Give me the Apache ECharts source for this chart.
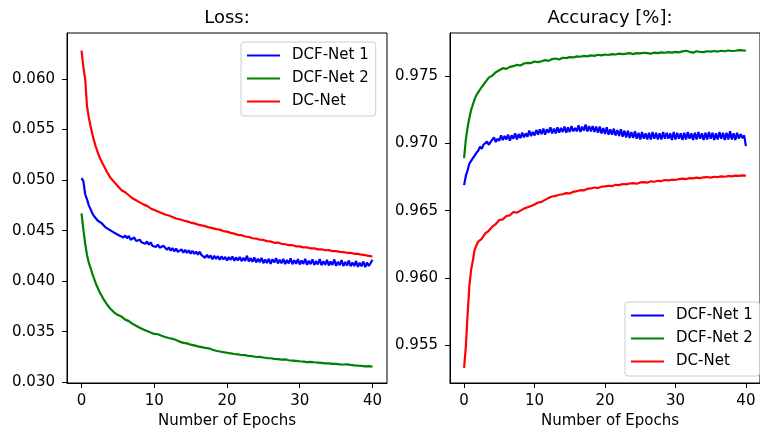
<!DOCTYPE html>
<html>
<head>
<meta charset="utf-8">
<script src="https://cdn.jsdelivr.net/npm/echarts@6/dist/echarts.min.js"></script>
<style>
html,body{margin:0;padding:0;background:#fff;}
#chart{width:760px;height:432px;}
</style>
</head>
<body>
<div id="chart"></div>
<script>
const seriesNames = ['DCF-Net 1', 'DCF-Net 2', 'DC-Net'];
const xTicks = [0, 10, 20, 30, 40];
const lossTicks = [0.030, 0.035, 0.040, 0.045, 0.050, 0.055, 0.060];
const accTicks = [0.955, 0.960, 0.965, 0.970, 0.975];

// sampling points (epochs) for the smoother curves
const epochs = [0, 0.25, 0.5, 0.75, 1, 1.25, 1.5, 1.75, 2,
  2.5, 3, 3.5, 4, 4.5, 5, 5.5, 6, 6.5, 7, 7.5, 8, 8.5, 9, 9.5, 10,
  10.5, 11, 11.5, 12, 12.5, 13, 13.5, 14, 14.5, 15, 15.5, 16, 16.5, 17, 17.5, 18,
  18.5, 19, 19.5, 20, 20.5, 21, 21.5, 22, 22.5, 23, 23.5, 24, 24.5, 25, 25.5, 26,
  26.5, 27, 27.5, 28, 28.5, 29, 29.5, 30, 30.5, 31, 31.5, 32, 32.5, 33, 33.5, 34,
  34.5, 35, 35.5, 36, 36.5, 37, 37.5, 38, 38.5, 39, 39.5, 40];

// finer sampling points for the noisy DCF-Net 1 curves
const epochsFine = [0, 0.25, 0.5, 0.75, 1, 1.25, 1.5, 1.75,
  2, 2.25, 2.5, 2.75, 3, 3.25, 3.5, 3.75, 4, 4.25, 4.5, 4.75, 5, 5.25, 5.5, 5.75,
  6, 6.25, 6.5, 6.75, 7, 7.25, 7.5, 7.75, 8, 8.25, 8.5, 8.75, 9, 9.25, 9.5, 9.75,
  10, 10.25, 10.5, 10.75, 11, 11.25, 11.5, 11.75, 12, 12.25, 12.5, 12.75, 13, 13.25, 13.5, 13.75,
  14, 14.25, 14.5, 14.75, 15, 15.25, 15.5, 15.75, 16, 16.25, 16.5, 16.75, 17, 17.25, 17.5, 17.75,
  18, 18.25, 18.5, 18.75, 19, 19.25, 19.5, 19.75, 20, 20.25, 20.5, 20.75, 21, 21.25, 21.5, 21.75,
  22, 22.25, 22.5, 22.75, 23, 23.25, 23.5, 23.75, 24, 24.25, 24.5, 24.75, 25, 25.25, 25.5, 25.75,
  26, 26.25, 26.5, 26.75, 27, 27.25, 27.5, 27.75, 28, 28.25, 28.5, 28.75, 29, 29.25, 29.5, 29.75,
  30, 30.25, 30.5, 30.75, 31, 31.25, 31.5, 31.75, 32, 32.25, 32.5, 32.75, 33, 33.25, 33.5, 33.75,
  34, 34.25, 34.5, 34.75, 35, 35.25, 35.5, 35.75, 36, 36.25, 36.5, 36.75, 37, 37.25, 37.5, 37.75,
  38, 38.25, 38.5, 38.75, 39, 39.25, 39.5, 39.75, 40];

const lossDCF1 = [0.0502, 0.0499, 0.0486, 0.0481, 0.0475, 0.0471, 0.0467, 0.0464,
  0.04625, 0.04598, 0.04610, 0.04575, 0.04560, 0.04535, 0.04548, 0.04512,
  0.04515, 0.04490, 0.04502, 0.04470, 0.04480, 0.04450, 0.04468, 0.04432,
  0.04452, 0.04425, 0.04448, 0.04410, 0.04420, 0.04432, 0.04398, 0.04412,
  0.04410, 0.04385, 0.04402, 0.04370, 0.04392, 0.04360, 0.04385, 0.04348,
  0.04365, 0.04340, 0.04362, 0.04330, 0.04318, 0.04350, 0.04345, 0.04310,
  0.04335, 0.04302, 0.04328, 0.04295, 0.04322, 0.04290, 0.04298, 0.04315,
  0.04282, 0.04310, 0.04280, 0.04305, 0.04272, 0.04300, 0.04270, 0.04292,
  0.04262, 0.04292, 0.04258, 0.04275, 0.04232, 0.04262, 0.04230, 0.04255,
  0.04218, 0.04252, 0.04220, 0.04248, 0.04212, 0.04245, 0.04215, 0.04240,
  0.04205, 0.04238, 0.04212, 0.04245, 0.04202, 0.04235, 0.04205, 0.04240,
  0.04198, 0.04232, 0.04200, 0.04252, 0.04195, 0.04228, 0.04192, 0.04235,
  0.04185, 0.04222, 0.04188, 0.04230, 0.04178, 0.04215, 0.04180, 0.04222,
  0.04172, 0.04218, 0.04185, 0.04228, 0.04175, 0.04212, 0.04178, 0.04220,
  0.04170, 0.04210, 0.04175, 0.04225, 0.04168, 0.04208, 0.04172, 0.04218,
  0.04165, 0.04205, 0.04170, 0.04222, 0.04162, 0.04202, 0.04168, 0.04215,
  0.04160, 0.04200, 0.04165, 0.04218, 0.04158, 0.04198, 0.04162, 0.04212,
  0.04155, 0.04195, 0.04160, 0.04215, 0.04152, 0.04192, 0.04158, 0.04208,
  0.04150, 0.04190, 0.04155, 0.04205, 0.04148, 0.04185, 0.04150, 0.04200,
  0.04142, 0.04182, 0.04148, 0.04195, 0.04140, 0.04185, 0.04150, 0.04180,
  0.04212];

const lossDCF2 = [0.0467, 0.0451, 0.0437, 0.0426, 0.0418, 0.0413, 0.0407, 0.0402, 0.0397,
  0.0389, 0.03825, 0.0377, 0.03725, 0.0369, 0.03665, 0.03650, 0.0362, 0.03605, 0.03578, 0.03560, 0.03540, 0.03522, 0.03508, 0.03492, 0.03478,
  0.03475, 0.03460, 0.03448, 0.03438, 0.03430, 0.03418, 0.03402, 0.03390, 0.03385, 0.03372, 0.03365, 0.03355, 0.03348, 0.03340, 0.03336, 0.03322,
  0.03312, 0.03305, 0.03298, 0.03292, 0.03286, 0.03280, 0.03276, 0.03270, 0.03268, 0.03260, 0.03258, 0.03250, 0.03252, 0.03245, 0.03240, 0.03238,
  0.03232, 0.03230, 0.03225, 0.03226, 0.03218, 0.03215, 0.03212, 0.03208, 0.03205, 0.03200, 0.03202, 0.03198, 0.03195, 0.03192, 0.03188, 0.03187,
  0.03182, 0.03183, 0.03178, 0.03176, 0.03178, 0.03172, 0.03168, 0.03165, 0.03163, 0.03158, 0.03160, 0.03155];

const lossDC = [0.0628, 0.0612, 0.0600, 0.0573, 0.0562, 0.0553, 0.0545, 0.0538, 0.0532,
  0.0522, 0.0515, 0.0508, 0.0502, 0.0498, 0.0494, 0.0490, 0.0488, 0.0485, 0.0482, 0.0480, 0.0478, 0.0476, 0.04745, 0.0472, 0.04705,
  0.0469, 0.04675, 0.0466, 0.04650, 0.04635, 0.0462, 0.04612, 0.0460, 0.04592, 0.0458, 0.04572, 0.0456, 0.04552, 0.04545, 0.04532, 0.04525,
  0.04515, 0.0451, 0.04496, 0.0449, 0.04478, 0.04470, 0.04458, 0.04455, 0.04442, 0.04438, 0.04425, 0.04422, 0.04410, 0.04408, 0.04396, 0.04393,
  0.04380, 0.04382, 0.04370, 0.04366, 0.04357, 0.04356, 0.04345, 0.04345, 0.04335, 0.04334, 0.04324, 0.04325, 0.04315, 0.04316, 0.04306, 0.04307,
  0.04298, 0.04298, 0.04290, 0.04288, 0.04281, 0.04280, 0.04271, 0.04270, 0.04262, 0.04258, 0.04250, 0.04244];

const accDCF1 = [0.9669, 0.9676, 0.9680, 0.9685, 0.9687, 0.9689, 0.9691, 0.9693,
  0.96945, 0.96975, 0.96960, 0.96990, 0.96985, 0.97015, 0.96990, 0.97010,
  0.97000, 0.97045, 0.97010, 0.97035, 0.97020, 0.97060, 0.97025, 0.97055,
  0.97030, 0.97065, 0.97020, 0.97060, 0.97035, 0.97075, 0.97030, 0.97070,
  0.97040, 0.97080, 0.97045, 0.97075, 0.97050, 0.97095, 0.97055, 0.97085,
  0.97060, 0.97100, 0.97065, 0.97105, 0.97070, 0.97110, 0.97065, 0.97105,
  0.97080, 0.97120, 0.97075, 0.97110, 0.97075, 0.97120, 0.97080, 0.97115,
  0.97085, 0.97125, 0.97080, 0.97120, 0.97085, 0.97130, 0.97090, 0.97115,
  0.97090, 0.97135, 0.97085, 0.97125, 0.97095, 0.97140, 0.97090, 0.97130,
  0.97090, 0.97130, 0.97085, 0.97125, 0.97080, 0.97125, 0.97075, 0.97115,
  0.97070, 0.97120, 0.97065, 0.97105, 0.97065, 0.97110, 0.97060, 0.97100,
  0.97055, 0.97105, 0.97050, 0.97095, 0.97045, 0.97095, 0.97040, 0.97085,
  0.97040, 0.97090, 0.97035, 0.97080, 0.97030, 0.97085, 0.97035, 0.97075,
  0.97030, 0.97080, 0.97030, 0.97085, 0.97035, 0.97080, 0.97030, 0.97075,
  0.97030, 0.97085, 0.97035, 0.97080, 0.97035, 0.97075, 0.97025, 0.97085,
  0.97030, 0.97080, 0.97035, 0.97075, 0.97025, 0.97080, 0.97030, 0.97085,
  0.97035, 0.97075, 0.97025, 0.97080, 0.97030, 0.97085, 0.97035, 0.97075,
  0.97025, 0.97080, 0.97030, 0.97085, 0.97035, 0.97080, 0.97025, 0.97075,
  0.97030, 0.97085, 0.97035, 0.97080, 0.97025, 0.97080, 0.97030, 0.97090,
  0.97030, 0.97075, 0.97025, 0.97080, 0.97035, 0.97070, 0.97040, 0.97060,
  0.96980];

const accDCF2 = [0.9689, 0.9703, 0.9712, 0.9719, 0.9725, 0.9729, 0.9733, 0.9736, 0.9738,
  0.9742, 0.97455, 0.9749, 0.97505, 0.9753, 0.97545, 0.9756, 0.97555, 0.9757, 0.97575, 0.97585, 0.97580, 0.97595, 0.97600, 0.97598, 0.97610,
  0.97605, 0.97612, 0.97620, 0.97615, 0.97628, 0.97632, 0.97625, 0.97638, 0.97635, 0.97642, 0.97640, 0.97648, 0.97645, 0.97652, 0.97648, 0.97655,
  0.97652, 0.97660, 0.97655, 0.97662, 0.97658, 0.97665, 0.97662, 0.97668, 0.97665, 0.97668, 0.97672, 0.97665, 0.97672, 0.97670, 0.97675, 0.97672,
  0.97668, 0.97676, 0.97672, 0.97678, 0.97675, 0.97680, 0.97676, 0.97682, 0.97678, 0.97685, 0.97690, 0.97682, 0.97676, 0.97686, 0.97682, 0.97680,
  0.97686, 0.97683, 0.97688, 0.97684, 0.97690, 0.97686, 0.97692, 0.97688, 0.97690, 0.97694, 0.97692, 0.97690];

const accDC = [0.9533, 0.9549, 0.9573, 0.9594, 0.9606, 0.9613, 0.9621, 0.9624, 0.9627,
  0.9629, 0.9633, 0.9635, 0.9638, 0.9640, 0.9643, 0.96435, 0.9646, 0.96465, 0.9649, 0.96485, 0.9650, 0.96515, 0.96525, 0.96535, 0.96545,
  0.96560, 0.96565, 0.96580, 0.96595, 0.96605, 0.96610, 0.96618, 0.96622, 0.96630, 0.96628, 0.96640, 0.96645, 0.96652, 0.96650, 0.96662, 0.96665,
  0.96672, 0.96668, 0.96678, 0.96680, 0.96685, 0.96682, 0.96692, 0.96690, 0.96698, 0.96695, 0.96702, 0.96705, 0.96700, 0.96710, 0.96712, 0.96708,
  0.96718, 0.96715, 0.96722, 0.96720, 0.96728, 0.96725, 0.96730, 0.96728, 0.96735, 0.96738, 0.96735, 0.96742, 0.96740, 0.96745, 0.96742, 0.96748,
  0.96750, 0.96746, 0.96752, 0.96750, 0.96755, 0.96752, 0.96758, 0.96755, 0.96760, 0.96758, 0.96762, 0.96760];

const FONT = 'DejaVu Sans';
const colors = ['#0000ff', '#008000', '#ff0000'];

function pairs(xs, arr) { return xs.map((e, i) => [e, arr[i]]); }

function xAxisCfg(gridIndex) {
  return {
    type: 'value', gridIndex: gridIndex, min: -2, max: 42,
    splitLine: { show: false },
    axisLine: { show: true, onZero: false, lineStyle: { color: '#000', width: 1 } },
    axisTick: { show: true, length: 5, inside: false, customValues: xTicks, lineStyle: { color: '#000', width: 1 } },
    axisLabel: { customValues: xTicks, margin: 11, fontSize: 15, fontFamily: FONT, color: '#000' }
  };
}
function yAxisCfg(gridIndex, min, max, ticks) {
  return {
    type: 'value', gridIndex: gridIndex, min: min, max: max, scale: true,
    splitLine: { show: false },
    axisLine: { show: true, onZero: false, lineStyle: { color: '#000', width: 1 } },
    axisTick: { show: true, length: 5, inside: false, customValues: ticks, lineStyle: { color: '#000', width: 1 } },
    axisLabel: { customValues: ticks, margin: 12, fontSize: 15, fontFamily: FONT, color: '#000',
      formatter: v => v.toFixed(3) }
  };
}
function legendCfg(left, top) {
  return {
    left: left, top: top, orient: 'vertical',
    icon: 'rect', itemWidth: 33, itemHeight: 2, itemGap: 8,
    padding: [6, 7, 7, 6],
    backgroundColor: 'rgba(255,255,255,0.8)',
    borderColor: '#cccccc', borderWidth: 1, borderRadius: 3,
    textStyle: { fontSize: 15, fontFamily: FONT, color: '#000', padding: [0, 0, 0, 7] },
    data: seriesNames
  };
}
function lineSeries(name, xs, data, xi, color) {
  return {
    name: name, type: 'line', xAxisIndex: xi, yAxisIndex: xi,
    data: pairs(xs, data), symbol: 'none', showSymbol: false,
    lineStyle: { color: color, width: 2.2 }, itemStyle: { color: color },
    emphasis: { disabled: true }
  };
}

const chart = echarts.init(document.getElementById('chart'), null, { renderer: 'canvas' });
chart.setOption({
  animation: false,
  backgroundColor: '#ffffff',
  grid: [
    { left: 67, top: 33, width: 320, height: 350, show: true, borderColor: '#000', borderWidth: 1, backgroundColor: 'transparent', containLabel: false },
    { left: 450, top: 33, width: 320, height: 350, show: true, borderColor: '#000', borderWidth: 1, backgroundColor: 'transparent', containLabel: false }
  ],
  xAxis: [xAxisCfg(0), xAxisCfg(1)],
  yAxis: [yAxisCfg(0, 0.02993, 0.06455, lossTicks), yAxisCfg(1, 0.95217, 0.97822, accTicks)],
  legend: [legendCfg(241, 42), legendCfg(625, 302)],
  graphic: [
    { type: 'text', x: 227, y: 18.5, style: { text: 'Loss:', fontSize: 18, fontFamily: FONT, fill: '#000', align: 'center', verticalAlign: 'middle' } },
    { type: 'text', x: 610, y: 18.5, style: { text: 'Accuracy [%]:', fontSize: 18, fontFamily: FONT, fill: '#000', align: 'center', verticalAlign: 'middle' } },
    { type: 'text', x: 227, y: 421.5, style: { text: 'Number of Epochs', fontSize: 15, fontFamily: FONT, fill: '#000', align: 'center', verticalAlign: 'middle' } },
    { type: 'text', x: 610, y: 421.5, style: { text: 'Number of Epochs', fontSize: 15, fontFamily: FONT, fill: '#000', align: 'center', verticalAlign: 'middle' } }
  ],
  series: [
    lineSeries(seriesNames[0], epochsFine, lossDCF1, 0, colors[0]),
    lineSeries(seriesNames[1], epochs, lossDCF2, 0, colors[1]),
    lineSeries(seriesNames[2], epochs, lossDC, 0, colors[2]),
    lineSeries(seriesNames[0], epochsFine, accDCF1, 1, colors[0]),
    lineSeries(seriesNames[1], epochs, accDCF2, 1, colors[1]),
    lineSeries(seriesNames[2], epochs, accDC, 1, colors[2])
  ]
});
</script>
</body>
</html>
